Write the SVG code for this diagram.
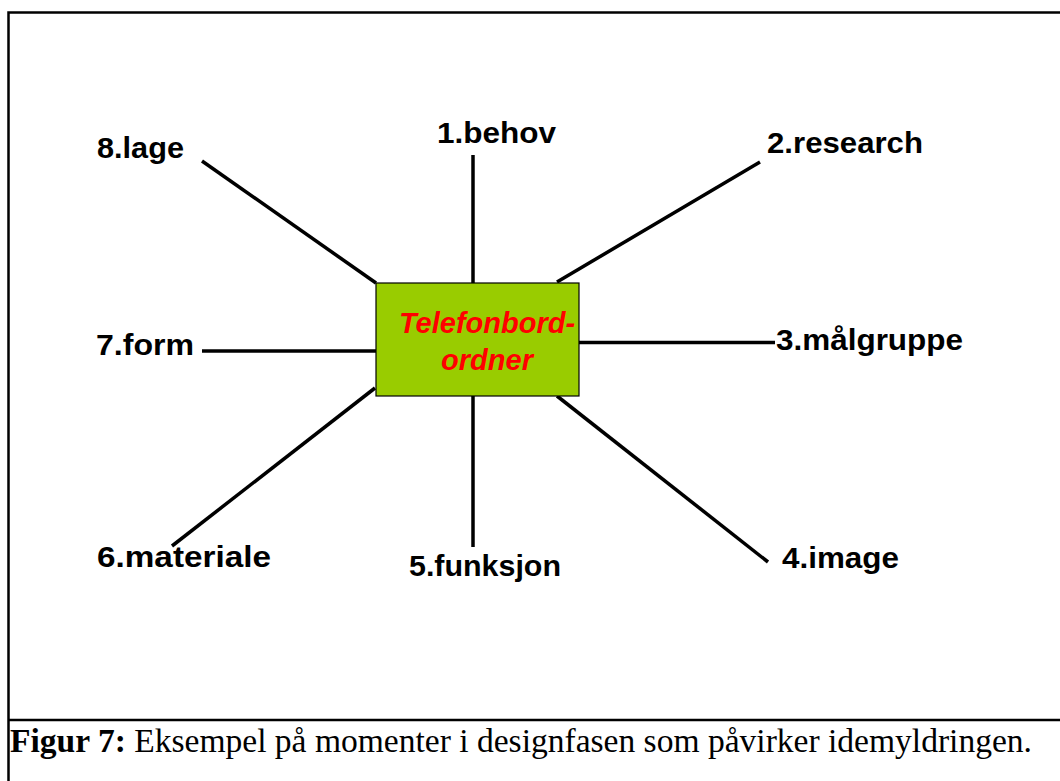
<svg xmlns="http://www.w3.org/2000/svg" width="1060" height="781" viewBox="0 0 1060 781">
  <style>
    .frame { fill: none; stroke: #000; stroke-width: 2.5; }
    .spoke { stroke: #000; stroke-width: 3.5; stroke-linecap: butt; fill: none; }
    .label { font-family: "Liberation Sans", Arial, sans-serif; font-weight: bold; font-size: 30px; fill: #000; }
    .center { font-family: "Liberation Sans", Arial, sans-serif; font-weight: bold; font-style: italic; font-size: 29px; fill: #FF0000; text-anchor: middle; }
    .caption { font-family: "Liberation Serif", "Times New Roman", serif; font-size: 33px; fill: #000; }
  </style>

  <rect width="1060" height="781" fill="#fff"/>

  <!-- outer frame and caption separator -->
  <g id="frame">
    <path class="frame" d="M8.5,781 V12.5 H1060"/>
    <line class="frame" x1="8.5" y1="720" x2="1060" y2="720"/>
  </g>

  <!-- spokes from the central box -->
  <g id="connectors">
    <line class="spoke" x1="473" y1="155" x2="473" y2="283"/>
    <line class="spoke" x1="557" y1="282" x2="760" y2="162"/>
    <line class="spoke" x1="579" y1="342.5" x2="775" y2="342.5"/>
    <line class="spoke" x1="557" y1="396" x2="768" y2="562"/>
    <line class="spoke" x1="473" y1="396" x2="473" y2="547"/>
    <line class="spoke" x1="375" y1="388" x2="172" y2="546"/>
    <line class="spoke" x1="202" y1="351" x2="376" y2="351"/>
    <line class="spoke" x1="202" y1="161" x2="376" y2="283"/>
  </g>

  <g id="node-center">
    <rect x="376" y="283" width="203" height="113" fill="#99CC00" stroke="#000" stroke-width="1.2"/>
    <text class="center" x="487" y="333">Telefonbord-</text>
    <text class="center" x="487" y="370">ordner</text>
  </g>

  <g id="node-1"><text class="label" x="437" y="143" textLength="119" lengthAdjust="spacingAndGlyphs">1.behov</text></g>
  <g id="node-2"><text class="label" x="767" y="153" textLength="156" lengthAdjust="spacingAndGlyphs">2.research</text></g>
  <g id="node-3"><text class="label" x="776" y="350" textLength="187" lengthAdjust="spacingAndGlyphs">3.målgruppe</text></g>
  <g id="node-4"><text class="label" x="782" y="568" textLength="117" lengthAdjust="spacingAndGlyphs">4.image</text></g>
  <g id="node-5"><text class="label" x="409" y="576" textLength="152" lengthAdjust="spacingAndGlyphs">5.funksjon</text></g>
  <g id="node-6"><text class="label" x="97" y="567" textLength="174" lengthAdjust="spacingAndGlyphs">6.materiale</text></g>
  <g id="node-7"><text class="label" x="96" y="355" textLength="98" lengthAdjust="spacingAndGlyphs">7.form</text></g>
  <g id="node-8"><text class="label" x="97" y="158" textLength="87" lengthAdjust="spacingAndGlyphs">8.lage</text></g>

  <g id="caption">
    <text class="caption" x="10" y="752" textLength="1022" lengthAdjust="spacingAndGlyphs"><tspan font-weight="bold">Figur 7:</tspan> Eksempel på momenter i designfasen som påvirker idemyldringen.</text>
  </g>
</svg>
